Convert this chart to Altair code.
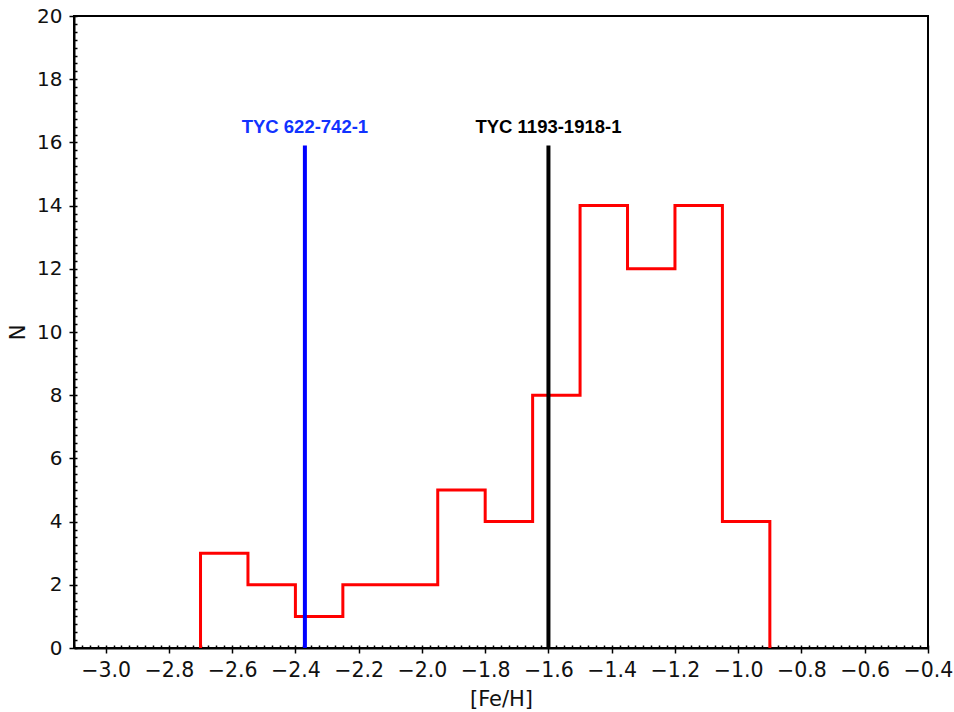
import altair as alt
import pandas as pd

# Histogram bin edges and counts ([Fe/H])
bin_edges = [-2.70, -2.55, -2.40, -2.25, -2.10, -1.95, -1.80, -1.65, -1.50, -1.35, -1.20, -1.05, -0.90]
counts = [3, 2, 1, 2, 2, 5, 4, 8, 14, 12, 14, 4]

# Marked stars
star_names = ["TYC 622-742-1", "TYC 1193-1918-1"]
star_feh = [-2.37, -1.60]
star_colors = ["#0000ff", "#000000"]
label_colors = ["#1133ff", "#000000"]
line_top = 15.9
label_y = 16.5

x_domain = [-3.1, -0.4]
y_domain = [0, 20]
x_major = [-3.0, -2.8, -2.6, -2.4, -2.2, -2.0, -1.8, -1.6, -1.4, -1.2, -1.0, -0.8, -0.6, -0.4]
y_major = [0, 2, 4, 6, 8, 10, 12, 14, 16, 18, 20]
x_minor = [round(-3.1 + 0.025 * i, 3) for i in range(109)]
y_minor = [0.25 * i for i in range(81)]

# step outline points
sx = [bin_edges[0], bin_edges[0]] + bin_edges[1:] + [bin_edges[-1]]
sy = [0, counts[0]] + counts[1:] + [counts[-1], 0]
hist = pd.DataFrame({"x": sx, "y": sy, "i": list(range(len(sx)))})
stars = pd.DataFrame({"name": star_names, "feh": star_feh, "color": star_colors,
                      "lcolor": label_colors,
                      "y0": [0, 0], "y1": [line_top, line_top], "ly": [label_y, label_y]})

FONT = "DejaVu Sans"
BFONT = "Liberation Sans"

xs = alt.Scale(domain=x_domain, nice=False, zero=False)
ys = alt.Scale(domain=y_domain, nice=False, zero=False)

x_axis = alt.Axis(values=x_major, format=".1f", title="[Fe/H]", grid=False,
                  tickSize=5, tickWidth=1.5, tickColor="black", domainColor="black",
                  domainWidth=2, labelFontSize=20.5, labelFont=FONT, labelColor="#111",
                  labelPadding=7, titleFontSize=21, titleFont=FONT, titleFontWeight="normal",
                  titleColor="#111", titlePadding=8, labelFlush=False)
y_axis = alt.Axis(values=y_major, format="d", title="N", grid=False,
                  tickSize=5, tickWidth=1.5, tickColor="black", domainColor="black",
                  domainWidth=2, labelFontSize=20, labelFont=FONT, labelColor="#111",
                  labelPadding=7, titleFontSize=21, titleFont=FONT, titleFontWeight="normal",
                  titleColor="#111", titlePadding=8, labelFlush=False)

hist_line = alt.Chart(hist).mark_line(color="red", strokeWidth=3, interpolate="step-after",
                                      strokeCap="butt", strokeJoin="miter").encode(
    x=alt.X("x:Q", scale=xs, axis=x_axis),
    y=alt.Y("y:Q", scale=ys, axis=y_axis),
    order="i:Q",
)

rules = alt.Chart(stars).mark_rule(strokeWidth=4).encode(
    x=alt.X("feh:Q", scale=xs),
    y=alt.Y("y0:Q", scale=ys),
    y2="y1:Q",
    color=alt.Color("color:N", scale=None),
)

labels = alt.Chart(stars).mark_text(fontSize=18.5, fontWeight="bold", font=BFONT,
                                    baseline="middle", align="center").encode(
    x=alt.X("feh:Q", scale=xs),
    y=alt.Y("ly:Q", scale=ys),
    text="name:N",
    color=alt.Color("lcolor:N", scale=None),
)

main = alt.layer(hist_line, rules, labels)

minor_x = alt.Axis(values=x_minor, labels=False, title=None, domain=False, grid=False,
                   tickSize=3, tickWidth=1.5, tickColor="black", offset=-3, orient="bottom")
minor_y = alt.Axis(values=y_minor, labels=False, title=None, domain=False, grid=False,
                   tickSize=3, tickWidth=1.5, tickColor="black", offset=-3, orient="left")

minor = alt.Chart(hist).mark_line(opacity=0).encode(
    x=alt.X("x:Q", scale=xs, axis=minor_x),
    y=alt.Y("y:Q", scale=ys, axis=minor_y),
)

chart = alt.layer(main, minor).resolve_scale(x="independent", y="independent").properties(
    width=854, height=632, autosize="none",
    padding={"left": 74, "top": 16, "right": 26, "bottom": 64},
    background="white",
).configure_view(stroke="black", strokeWidth=2)

chart.save("out.html", embed_options={"renderer": "svg", "actions": False})
